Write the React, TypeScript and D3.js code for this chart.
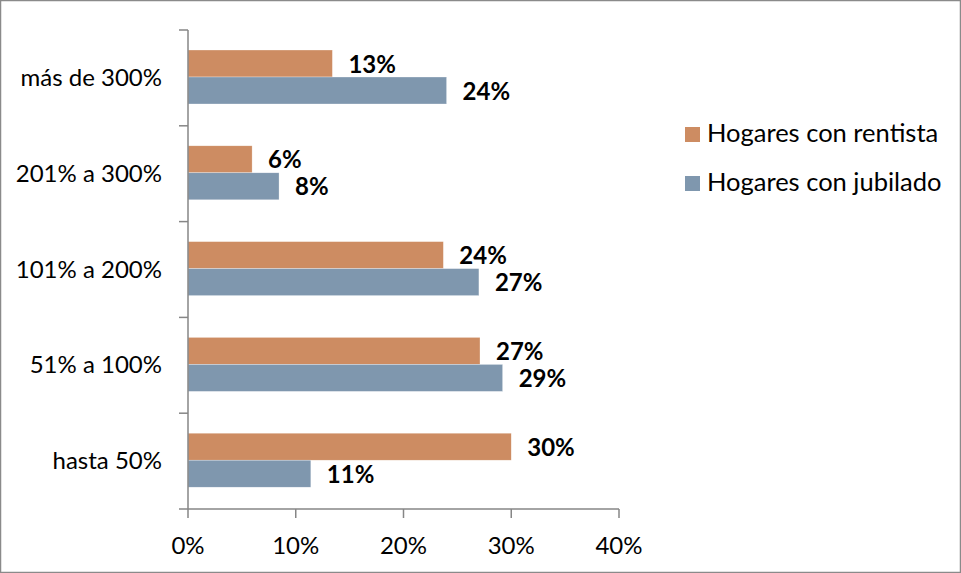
import React from "react";
import * as d3 from "d3";

const categories = ["más de 300%", "201% a 300%", "101% a 200%", "51% a 100%", "hasta 50%"];
const seriesNames = ["Hogares con rentista", "Hogares con jubilado"];
const rentista = [13.4, 5.95, 23.7, 27.1, 30.0];
const jubilado = [24.0, 8.45, 27.0, 29.2, 11.4];
const rentistaLabels = ["13%", "6%", "24%", "27%", "30%"];
const jubiladoLabels = ["24%", "8%", "27%", "29%", "11%"];
const xTicks = [0, 10, 20, 30, 40];
const colors = ["#CD8C62", "#7F97AE"];

const W = 961;
const H = 573;
const FONT = "Lato, 'Open Sans', sans-serif";

export default function App() {
  const x = d3.scaleLinear().domain([0, 40]).range([188, 619]);
  const y = d3.scaleBand<string>().domain(categories).range([30, 509]);
  const inner = d3.scaleBand<number>().domain([0, 1]).range([20, 74]);
  const series = [rentista, jubilado];
  const labels = [rentistaLabels, jubiladoLabels];
  const axisColor = "#868686";
  return (
    <svg width={W} height={H} style={{ position: "fixed", left: 0, top: 0, background: "#fff" }} fontFamily={FONT}>
      <rect x={0.5} y={0.5} width={W - 1} height={H - 1} fill="#fff" stroke="#8a8a8a" strokeWidth={1.5} />
      {categories.map((c, i) =>
        series.map((s, k) => {
          const y0 = (y(c) as number) + (inner(k) as number);
          const x1 = x(s[i]);
          return (
            <g key={c + k}>
              <rect x={x(0)} y={y0} width={x1 - x(0)} height={inner.bandwidth()} fill={colors[k]} stroke="#fff" strokeWidth={0.5} strokeOpacity={0.6} />
              <text x={x1 + 16} y={y0 + inner.bandwidth() / 2 + 9} fontSize={24} fontWeight="bold" fill="#000">
                {labels[k][i]}
              </text>
            </g>
          );
        })
      )}
      {/* y axis */}
      <line x1={x(0)} x2={x(0)} y1={30} y2={509} stroke={axisColor} strokeWidth={1.5} />
      {d3.range(categories.length + 1).map((j) => {
        const yy = 30 + j * y.step();
        return <line key={"yt" + j} x1={179} x2={x(0)} y1={yy} y2={yy} stroke={axisColor} strokeWidth={1.5} />;
      })}
      {categories.map((c) => (
        <text key={"yl" + c} x={162} y={(y(c) as number) + y.bandwidth() / 2 + 8} textAnchor="end" fontSize={24} fill="#000">
          {c}
        </text>
      ))}
      {/* x axis */}
      <line x1={x(0)} x2={x(40)} y1={509} y2={509} stroke={axisColor} strokeWidth={1.5} />
      {xTicks.map((t) => (
        <g key={"xt" + t}>
          <line x1={x(t)} x2={x(t)} y1={509} y2={518} stroke={axisColor} strokeWidth={1.5} />
          <text x={x(t)} y={554} textAnchor="middle" fontSize={24} fill="#000">
            {t + "%"}
          </text>
        </g>
      ))}
      {/* legend */}
      {seriesNames.map((n, k) => (
        <g key={"lg" + k}>
          <rect x={685} y={127 + k * 49} width={15} height={15} fill={colors[k]} />
          <text x={707} y={142 + k * 49} fontSize={25.5} fill="#000">
            {n}
          </text>
        </g>
      ))}
    </svg>
  );
}
